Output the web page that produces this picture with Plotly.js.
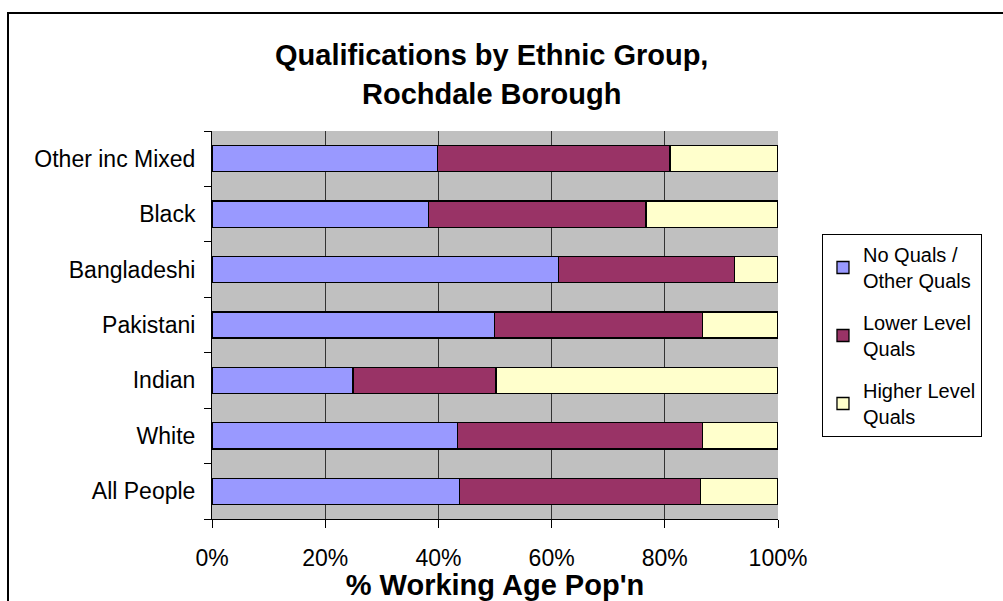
<!DOCTYPE html>
<html>
<head>
<meta charset="utf-8">
<script src="https://cdn.plot.ly/plotly-3.0.1.min.js"></script>
<style>
  html, body { margin: 0; padding: 0; background: #fff; }
  #wrap { position: relative; width: 1003px; height: 601px; overflow: hidden; }
  #chart { position: absolute; left: 0; top: 0; width: 1003px; height: 601px; }
  #frame { position: absolute; left: 7px; top: 12px; width: 1100px; height: 700px;
           border-left: 2px solid #000; border-top: 2px solid #000; pointer-events: none; }
</style>
</head>
<body>
<div id="wrap">
  <div id="chart"></div>
  <div id="frame"></div>
</div>
<script>
// Categories (bottom to top, as drawn)
const categories = ["All People", "White", "Indian", "Pakistani", "Bangladeshi", "Black", "Other inc Mixed"];
// % of working age population
const noQuals     = [43.7, 43.4, 24.9, 49.9, 61.2, 38.3, 39.8];
const lowerLevel  = [42.6, 43.2, 25.3, 36.7, 31.1, 38.4, 41.1];
const higherLevel = [13.7, 13.4, 49.8, 13.4,  7.7, 23.3, 19.1];
const seriesNames = ["No Quals /<br>Other Quals", "Lower Level<br>Quals", "Higher Level<br>Quals"];
const xTickVals = [0, 20, 40, 60, 80, 100];
const xTickText = ["0%", "20%", "40%", "60%", "80%", "100%"];

const FONT = "Liberation Sans, Arial, Helvetica, sans-serif";
const colors = ["#9999FF", "#993366", "#FFFFCC"];
const seriesVals = [noQuals, lowerLevel, higherLevel];

const traces = seriesVals.map((vals, i) => ({
  type: "bar",
  orientation: "h",
  y: categories,
  x: vals,
  name: seriesNames[i],
  legendgroup: "g" + i,
  marker: { color: colors[i], line: { color: "#000", width: 1.3 } },
  hoverinfo: "x+y+name"
}));

const layout = {
  width: 1003, height: 601,
  margin: { l: 212, r: 225, t: 131, b: 82, pad: 0 },
  paper_bgcolor: "rgba(0,0,0,0)",
  plot_bgcolor: "#C0C0C0",
  barmode: "stack",
  bargap: 0.53,
  font: { family: FONT, color: "#000", size: 23 },
  showlegend: true,
  legend: {
    x: 1.0777, y: (519 - 234) / 388, xanchor: "left", yanchor: "top",
    bgcolor: "#fff", bordercolor: "#000", borderwidth: 1,
    font: { family: FONT, size: 20, color: "#000" },
    traceorder: "grouped",
    tracegroupgap: 13,
    itemwidth: 30
  },
  xaxis: {
    range: [0, 100],
    tickvals: xTickVals, ticktext: xTickText,
    showgrid: true, gridcolor: "#333", gridwidth: 1,
    zeroline: false,
    showline: true, linecolor: "#000", linewidth: 1,
    ticks: "outside", ticklen: 8, tickcolor: "#000", tickwidth: 1,
    ticklabelstandoff: 10,
    tickfont: { family: FONT, size: 23, color: "#000" },
    title: { text: "<b>% Working Age Pop'n</b>", font: { family: FONT, size: 29, color: "#000" }, standoff: 6 },
    fixedrange: true
  },
  yaxis: {
    type: "category",
    categoryorder: "array", categoryarray: categories,
    showgrid: false, zeroline: false,
    showline: true, linecolor: "#000", linewidth: 1,
    ticks: "outside", ticklen: 7, tickcolor: "#000", tickwidth: 1,
    tickson: "boundaries",
    ticklabelstandoff: 11,
    tickfont: { family: FONT, size: 23, color: "#000" },
    fixedrange: true
  },
  annotations: [
    { text: "<b>Qualifications by Ethnic Group,</b>", xref: "paper", yref: "paper",
      x: 0.493, y: (519 - 55) / 388, xanchor: "center", yanchor: "middle", showarrow: false,
      font: { family: FONT, size: 29, color: "#000" } },
    { text: "<b>Rochdale Borough</b>", xref: "paper", yref: "paper",
      x: 0.493, y: (519 - 94) / 388, xanchor: "center", yanchor: "middle", showarrow: false,
      font: { family: FONT, size: 29, color: "#000" } }
  ]
};

Plotly.newPlot("chart", traces, layout, { displayModeBar: false, staticPlot: true });
</script>
</body>
</html>
